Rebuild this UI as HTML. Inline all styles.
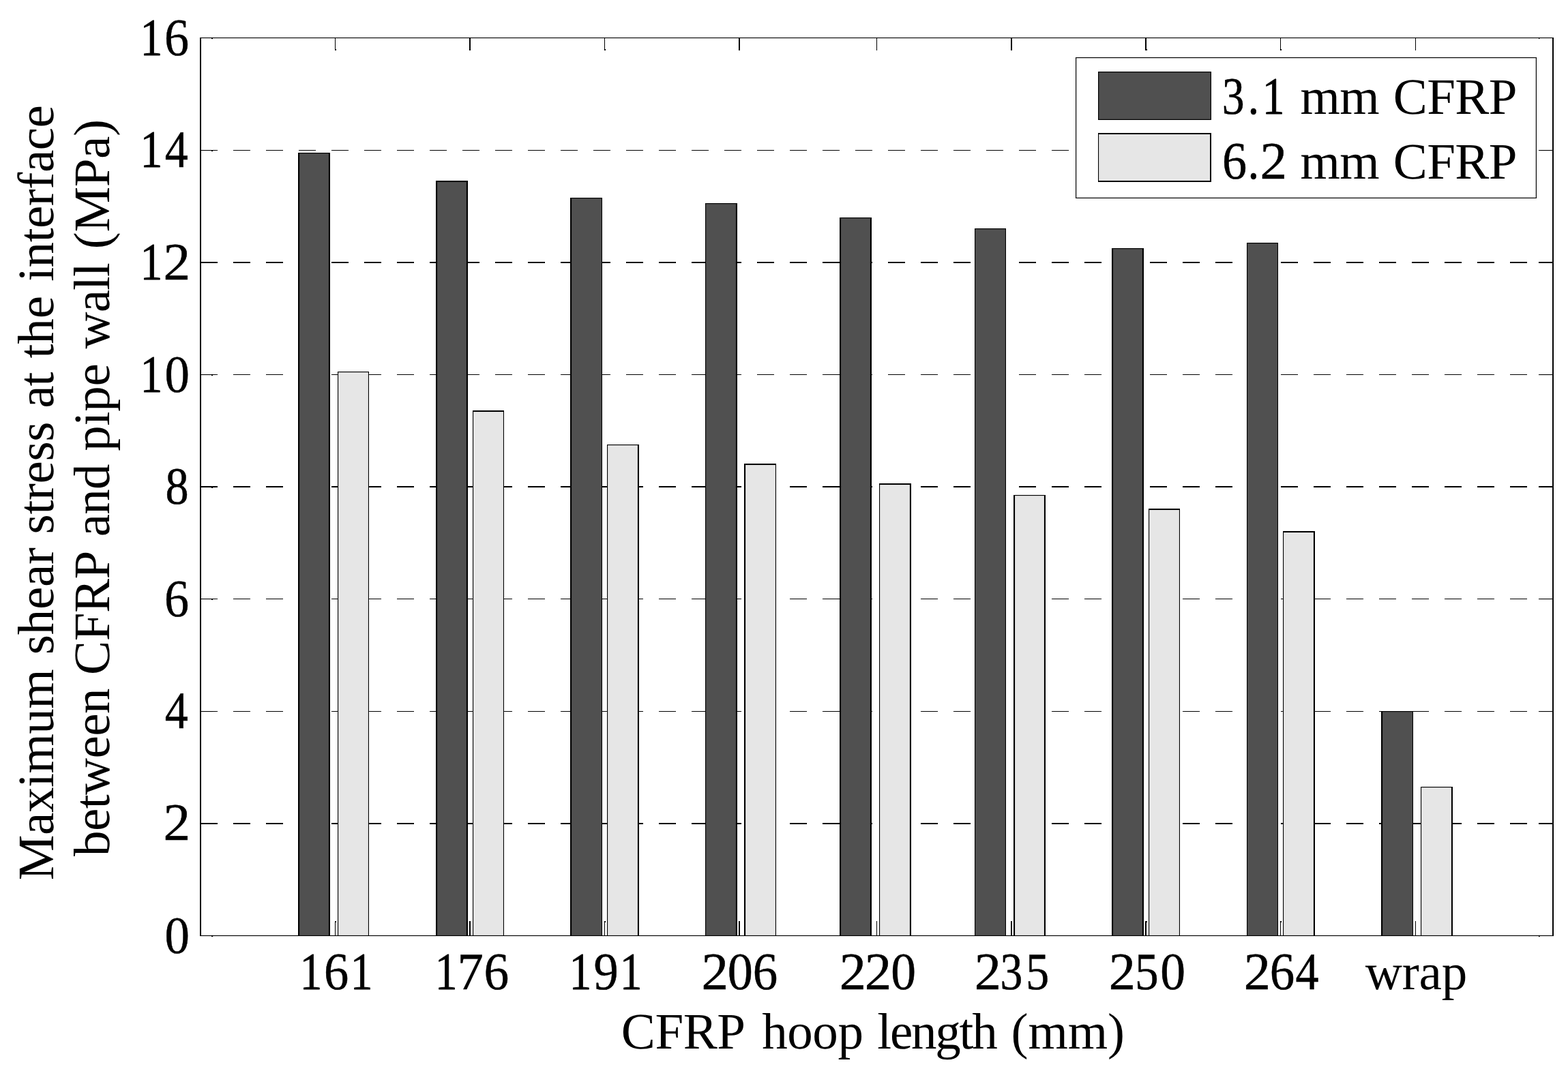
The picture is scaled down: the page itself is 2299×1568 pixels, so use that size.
<!DOCTYPE html>
<html lang="en"><head><meta charset="utf-8">
<title>Maximum shear stress at the interface between CFRP and pipe wall</title>
<style>
html,body{margin:0;padding:0;background:#fff;}
body{width:2299px;height:1568px;overflow:hidden;}
svg{display:block;}
text{font-family:"Liberation Serif", "DejaVu Serif", serif;font-size:75px;fill:#000;white-space:pre;text-rendering:geometricPrecision;}
.d{font-size:77.25px;stroke:#000;stroke-width:0.5px;stroke-linejoin:round;}
.d1{font-size:77.25px;stroke:#000;stroke-width:0.8px;stroke-linejoin:round;}
</style></head><body>
<svg width="2299" height="1568" viewBox="0 0 2299 1568">
<rect x="0" y="0" width="2299" height="1568" fill="#ffffff"/>
<g id="grid" stroke="#000" fill="none" stroke-dasharray="25 23">
<line x1="294" y1="1208" x2="2277" y2="1208" stroke-width="2"/>
<line x1="294" y1="1043.55" x2="2277" y2="1043.55" stroke-width="1.1"/>
<line x1="294" y1="878.55" x2="2277" y2="878.55" stroke-width="1.1"/>
<line x1="294" y1="714" x2="2277" y2="714" stroke-width="2"/>
<line x1="294" y1="549.55" x2="2277" y2="549.55" stroke-width="1.1"/>
<line x1="294" y1="385" x2="2277" y2="385" stroke-width="2"/>
<line x1="294" y1="220.55" x2="2277" y2="220.55" stroke-width="1.1"/>
</g>
<g id="ticks">
<rect x="491" y="1351" width="1" height="21.5" fill="#000"/>
<rect x="491" y="55.5" width="1" height="18.5" fill="#000"/>
<rect x="491" y="1351" width="2" height="2" fill="#000"/>
<rect x="491" y="72" width="2" height="2" fill="#000"/>
<rect x="688" y="1351" width="2" height="21.5" fill="#000"/>
<rect x="688" y="55.5" width="2" height="18.5" fill="#000"/>
<rect x="886" y="1351" width="1" height="21.5" fill="#000"/>
<rect x="886" y="55.5" width="1" height="18.5" fill="#000"/>
<rect x="886" y="1351" width="2" height="2" fill="#000"/>
<rect x="886" y="72" width="2" height="2" fill="#000"/>
<rect x="1083" y="1351" width="2" height="21.5" fill="#000"/>
<rect x="1083" y="55.5" width="2" height="18.5" fill="#000"/>
<rect x="1285" y="1351" width="1" height="21.5" fill="#000"/>
<rect x="1285" y="55.5" width="1" height="18.5" fill="#000"/>
<rect x="1482" y="1351" width="2" height="21.5" fill="#000"/>
<rect x="1482" y="55.5" width="2" height="18.5" fill="#000"/>
<rect x="1679" y="1351" width="2" height="21.5" fill="#000"/>
<rect x="1679" y="55.5" width="2" height="18.5" fill="#000"/>
<rect x="1679" y="1351" width="3" height="2" fill="#000"/>
<rect x="1679" y="72" width="3" height="2" fill="#000"/>
<rect x="1877" y="1351" width="1" height="21.5" fill="#000"/>
<rect x="1877" y="55.5" width="1" height="18.5" fill="#000"/>
<rect x="1877" y="1351" width="2" height="2" fill="#000"/>
<rect x="1877" y="72" width="2" height="2" fill="#000"/>
<rect x="2075" y="1351" width="1" height="21.5" fill="#000"/>
<rect x="2075" y="55.5" width="1" height="18.5" fill="#000"/>
<rect x="294" y="1207" width="18" height="2" fill="#000"/>
<rect x="2256" y="1207" width="21" height="2" fill="#000"/>
<rect x="294" y="1043" width="18" height="1.1" fill="#000"/>
<rect x="2256" y="1043" width="21" height="1.1" fill="#000"/>
<rect x="294" y="878" width="18" height="1.1" fill="#000"/>
<rect x="2256" y="878" width="21" height="1.1" fill="#000"/>
<rect x="310" y="879" width="2" height="1.1" fill="#000"/>
<rect x="294" y="713" width="18" height="2" fill="#000"/>
<rect x="2256" y="713" width="21" height="2" fill="#000"/>
<rect x="310" y="714.9" width="2" height="1.1" fill="#000"/>
<rect x="294" y="549" width="18" height="1.1" fill="#000"/>
<rect x="2256" y="549" width="21" height="1.1" fill="#000"/>
<rect x="310" y="550" width="2" height="1.1" fill="#000"/>
<rect x="294" y="384" width="18" height="2" fill="#000"/>
<rect x="2256" y="384" width="21" height="2" fill="#000"/>
<rect x="294" y="220" width="18" height="1.1" fill="#000"/>
<rect x="2256" y="220" width="21" height="1.1" fill="#000"/>
<rect x="310" y="221" width="2" height="1.1" fill="#000"/>
<rect x="310" y="56" width="2" height="1.2" fill="#000"/>
<rect x="2256" y="56" width="1.3" height="1.1" fill="#000"/>
<rect x="310" y="1372.9" width="2.2" height="1.1" fill="#000"/>
<rect x="2256" y="1373" width="1.6" height="1.2" fill="#000"/>
</g>
<g id="bars">
<rect x="437" y="224" width="47" height="1148.5" fill="#505050"/>
<rect x="437" y="224" width="2.1" height="1148.5" fill="#000"/>
<rect x="481.9" y="224" width="2.1" height="1148.5" fill="#000"/>
<rect x="437" y="224" width="47" height="1.15" fill="#000"/>
<rect x="495" y="545" width="46" height="827.5" fill="#e6e6e6"/>
<rect x="495" y="545" width="1.1" height="827.5" fill="#000"/>
<rect x="539.9" y="545" width="1.1" height="827.5" fill="#000"/>
<rect x="495" y="545" width="46" height="1.15" fill="#000"/>
<rect x="639" y="265" width="47" height="1107.5" fill="#505050"/>
<rect x="639" y="265" width="2.1" height="1107.5" fill="#000"/>
<rect x="683.9" y="265" width="2.1" height="1107.5" fill="#000"/>
<rect x="639" y="265" width="47" height="2.05" fill="#000"/>
<rect x="693" y="602" width="46" height="770.5" fill="#e6e6e6"/>
<rect x="693" y="602" width="1.1" height="770.5" fill="#000"/>
<rect x="737.9" y="602" width="1.1" height="770.5" fill="#000"/>
<rect x="693" y="602" width="46" height="2.05" fill="#000"/>
<rect x="836" y="290" width="47" height="1082.5" fill="#505050"/>
<rect x="836" y="290" width="2.1" height="1082.5" fill="#000"/>
<rect x="881.9" y="290" width="1.1" height="1082.5" fill="#000"/>
<rect x="836" y="290" width="47" height="1.15" fill="#000"/>
<rect x="890" y="652" width="47" height="720.5" fill="#e6e6e6"/>
<rect x="890" y="652" width="1.1" height="720.5" fill="#000"/>
<rect x="934.9" y="652" width="2.1" height="720.5" fill="#000"/>
<rect x="890" y="652" width="47" height="1.15" fill="#000"/>
<rect x="1034" y="298" width="47" height="1074.5" fill="#505050"/>
<rect x="1034" y="298" width="1.1" height="1074.5" fill="#000"/>
<rect x="1078.9" y="298" width="2.1" height="1074.5" fill="#000"/>
<rect x="1034" y="298" width="47" height="1.15" fill="#000"/>
<rect x="1091" y="680" width="47" height="692.5" fill="#e6e6e6"/>
<rect x="1091" y="680" width="2.1" height="692.5" fill="#000"/>
<rect x="1136.9" y="680" width="1.1" height="692.5" fill="#000"/>
<rect x="1091" y="680" width="47" height="2.05" fill="#000"/>
<rect x="1231" y="319" width="47" height="1053.5" fill="#505050"/>
<rect x="1231" y="319" width="2.1" height="1053.5" fill="#000"/>
<rect x="1275.9" y="319" width="2.1" height="1053.5" fill="#000"/>
<rect x="1231" y="319" width="47" height="1.15" fill="#000"/>
<rect x="1289" y="709" width="47" height="663.5" fill="#e6e6e6"/>
<rect x="1289" y="709" width="1.1" height="663.5" fill="#000"/>
<rect x="1333.9" y="709" width="2.1" height="663.5" fill="#000"/>
<rect x="1289" y="709" width="47" height="2.05" fill="#000"/>
<rect x="1429" y="335" width="46" height="1037.5" fill="#505050"/>
<rect x="1429" y="335" width="1.1" height="1037.5" fill="#000"/>
<rect x="1473.9" y="335" width="1.1" height="1037.5" fill="#000"/>
<rect x="1429" y="335" width="46" height="1.15" fill="#000"/>
<rect x="1486" y="726" width="47" height="646.5" fill="#e6e6e6"/>
<rect x="1486" y="726" width="2.1" height="646.5" fill="#000"/>
<rect x="1530.9" y="726" width="2.1" height="646.5" fill="#000"/>
<rect x="1486" y="726" width="47" height="1.15" fill="#000"/>
<rect x="1630" y="364" width="47" height="1008.5" fill="#505050"/>
<rect x="1630" y="364" width="2.1" height="1008.5" fill="#000"/>
<rect x="1674.9" y="364" width="2.1" height="1008.5" fill="#000"/>
<rect x="1630" y="364" width="47" height="1.15" fill="#000"/>
<rect x="1684" y="746" width="46" height="626.5" fill="#e6e6e6"/>
<rect x="1684" y="746" width="1.1" height="626.5" fill="#000"/>
<rect x="1728.9" y="746" width="1.1" height="626.5" fill="#000"/>
<rect x="1684" y="746" width="46" height="2.05" fill="#000"/>
<rect x="1828" y="356" width="46" height="1016.5" fill="#505050"/>
<rect x="1828" y="356" width="1.1" height="1016.5" fill="#000"/>
<rect x="1872.9" y="356" width="1.1" height="1016.5" fill="#000"/>
<rect x="1828" y="356" width="46" height="1.15" fill="#000"/>
<rect x="1881" y="779" width="47" height="593.5" fill="#e6e6e6"/>
<rect x="1881" y="779" width="1.1" height="593.5" fill="#000"/>
<rect x="1925.9" y="779" width="2.1" height="593.5" fill="#000"/>
<rect x="1881" y="779" width="47" height="2.05" fill="#000"/>
<rect x="2025" y="1043" width="47" height="329.5" fill="#505050"/>
<rect x="2025" y="1043" width="2.1" height="329.5" fill="#000"/>
<rect x="2070.9" y="1043" width="1.1" height="329.5" fill="#000"/>
<rect x="2025" y="1043" width="47" height="1.15" fill="#000"/>
<rect x="2083" y="1154" width="47" height="218.5" fill="#e6e6e6"/>
<rect x="2083" y="1154" width="1.1" height="218.5" fill="#000"/>
<rect x="2127.9" y="1154" width="2.1" height="218.5" fill="#000"/>
<rect x="2083" y="1154" width="47" height="1.15" fill="#000"/>
</g>
<g id="axes">
<rect x="293" y="55" width="2" height="1318.05" fill="#000"/>
<rect x="2276" y="55" width="2" height="1318.05" fill="#000"/>
<rect x="293" y="55" width="1985" height="1.1" fill="#000"/>
<rect x="293" y="1371.9" width="1985" height="1.15" fill="#000"/>
</g>
<g id="legend">
<rect x="1577" y="84" width="676" height="207" fill="#000"/>
<rect x="1578.2" y="85.2" width="673.6" height="204.6" fill="#fff"/>
<rect x="1610" y="105" width="166" height="71" fill="#000"/>
<rect x="1611.2" y="106.2" width="163.6" height="68.6" fill="#505050"/>
<rect x="1610" y="195" width="166" height="72" fill="#000"/>
<rect x="1611.1" y="197" width="162.9" height="68" fill="#e6e6e6"/>
</g>
<g id="labels">
<text y="80.8"><tspan x="205.58" class="d1" textLength="32.83" lengthAdjust="spacingAndGlyphs">1</tspan><tspan x="241.06" class="d" textLength="36.08" lengthAdjust="spacingAndGlyphs" dy="0.15">6</tspan></text>
<text y="244.6"><tspan x="205.58" class="d1" textLength="32.83" lengthAdjust="spacingAndGlyphs">1</tspan><tspan x="241.83" class="d" textLength="34.11" lengthAdjust="spacingAndGlyphs" dy="0.15">4</tspan></text>
<text y="409.6"><tspan x="205.58" class="d1" textLength="32.83" lengthAdjust="spacingAndGlyphs">1</tspan><tspan x="239.55" class="d" textLength="39.71" lengthAdjust="spacingAndGlyphs" dy="0.15">2</tspan></text>
<text y="574.8"><tspan x="205.58" class="d1" textLength="32.83" lengthAdjust="spacingAndGlyphs">1</tspan><tspan x="241.44" class="d" textLength="36.42" lengthAdjust="spacingAndGlyphs" dy="0.15">0</tspan></text>
<text y="738.95"><tspan x="242.43" class="d" textLength="34.11" lengthAdjust="spacingAndGlyphs">8</tspan></text>
<text y="904.45"><tspan x="241.06" class="d" textLength="36.08" lengthAdjust="spacingAndGlyphs">6</tspan></text>
<text y="1067.75"><tspan x="241.83" class="d" textLength="34.11" lengthAdjust="spacingAndGlyphs">4</tspan></text>
<text y="1232.15"><tspan x="239.55" class="d" textLength="39.71" lengthAdjust="spacingAndGlyphs">2</tspan></text>
<text y="1397.85"><tspan x="241.44" class="d" textLength="36.42" lengthAdjust="spacingAndGlyphs">0</tspan></text>
<text y="1450.7"><tspan x="439.62" class="d1" textLength="32.83" lengthAdjust="spacingAndGlyphs">1</tspan><tspan x="474.88" class="d" textLength="36.23" lengthAdjust="spacingAndGlyphs" dy="0.15">6</tspan><tspan x="513.67" class="d1" textLength="32.83" lengthAdjust="spacingAndGlyphs" dy="-0.15">1</tspan></text>
<text y="1450.7"><tspan x="637.67" class="d1" textLength="32.83" lengthAdjust="spacingAndGlyphs">1</tspan><tspan x="670.58" class="d" textLength="38.32" lengthAdjust="spacingAndGlyphs" dy="0.15">7</tspan><tspan x="709.57" class="d" textLength="36.69" lengthAdjust="spacingAndGlyphs">6</tspan></text>
<text y="1450.7"><tspan x="834.62" class="d1" textLength="32.83" lengthAdjust="spacingAndGlyphs">1</tspan><tspan x="870.61" class="d" textLength="36.23" lengthAdjust="spacingAndGlyphs" dy="0.15">9</tspan><tspan x="908.67" class="d1" textLength="32.83" lengthAdjust="spacingAndGlyphs" dy="-0.15">1</tspan></text>
<text y="1450.85"><tspan x="1028.45" class="d" textLength="39.59" lengthAdjust="spacingAndGlyphs">2</tspan><tspan x="1066.8" class="d" textLength="37.12" lengthAdjust="spacingAndGlyphs">0</tspan><tspan x="1103.64" class="d" textLength="36.46" lengthAdjust="spacingAndGlyphs">6</tspan></text>
<text y="1450.85"><tspan x="1230.75" class="d" textLength="39.20" lengthAdjust="spacingAndGlyphs">2</tspan><tspan x="1267.79" class="d" textLength="39.47" lengthAdjust="spacingAndGlyphs">2</tspan><tspan x="1306.17" class="d" textLength="36.77" lengthAdjust="spacingAndGlyphs">0</tspan></text>
<text y="1450.85"><tspan x="1428.85" class="d" textLength="39.20" lengthAdjust="spacingAndGlyphs">2</tspan><tspan x="1466.59" class="d" textLength="32.83" lengthAdjust="spacingAndGlyphs">3</tspan><tspan x="1504.04" class="d" textLength="34.26" lengthAdjust="spacingAndGlyphs">5</tspan></text>
<text y="1450.85"><tspan x="1625.75" class="d" textLength="39.20" lengthAdjust="spacingAndGlyphs">2</tspan><tspan x="1663.97" class="d" textLength="34.65" lengthAdjust="spacingAndGlyphs">5</tspan><tspan x="1701.17" class="d" textLength="36.77" lengthAdjust="spacingAndGlyphs">0</tspan></text>
<text y="1450.85"><tspan x="1823.85" class="d" textLength="39.20" lengthAdjust="spacingAndGlyphs">2</tspan><tspan x="1861.74" class="d" textLength="36.46" lengthAdjust="spacingAndGlyphs">6</tspan><tspan x="1899.53" class="d" textLength="34.11" lengthAdjust="spacingAndGlyphs">4</tspan></text>
<text y="1451.1"><tspan x="2001.71" letter-spacing="-0.12">wrap</tspan></text>
<text y="1538"><tspan x="910.77" letter-spacing="-0.4">CFRP</tspan> <tspan x="1117.26" letter-spacing="-0.44">hoop</tspan> <tspan x="1286.29" letter-spacing="-2.22">length</tspan> <tspan x="1482.46" letter-spacing="-0.05">(mm)</tspan></text>
<text transform="translate(78.1 0) rotate(-90)"><tspan x="-1291.18" letter-spacing="-0.44">Maximum</tspan> <tspan x="-960.32" letter-spacing="-0.21">shear</tspan> <tspan x="-783.42" letter-spacing="-0.36">stress</tspan> <tspan x="-598.67" letter-spacing="-1.05">at</tspan> <tspan x="-525.44" letter-spacing="-0.09">the</tspan> <tspan x="-412.78" letter-spacing="-0.46">interface</tspan></text>
<text transform="translate(159.8 0) rotate(-90)"><tspan x="-1256" letter-spacing="-0.55">between</tspan> <tspan x="-989.93" letter-spacing="-0.46">CFRP</tspan> <tspan x="-787.27" letter-spacing="-0.78">and</tspan> <tspan x="-661.72" letter-spacing="-0.17">pipe</tspan> <tspan x="-511.39" letter-spacing="-1">wall</tspan> <tspan x="-365.24" letter-spacing="-0.36">(MPa)</tspan></text>
<text y="166.75"><tspan x="1791.74" class="d" textLength="32.83" lengthAdjust="spacingAndGlyphs">3</tspan><tspan x="1829.58" class="d" textLength="16.72" lengthAdjust="spacingAndGlyphs">.</tspan><tspan x="1850.72" class="d1" textLength="32.83" lengthAdjust="spacingAndGlyphs" dy="-0.15">1</tspan> <tspan x="1906.42" letter-spacing="-0.43" dy="0.4">mm</tspan> <tspan x="2042.67" letter-spacing="-0.53">CFRP</tspan></text>
<text y="261.85"><tspan x="1792.03" class="d" textLength="36.11" lengthAdjust="spacingAndGlyphs">6</tspan><tspan x="1829.58" class="d" textLength="16.72" lengthAdjust="spacingAndGlyphs">.</tspan><tspan x="1847.55" class="d" textLength="39.59" lengthAdjust="spacingAndGlyphs">2</tspan> <tspan x="1906.42" letter-spacing="-0.43" dy="0.25">mm</tspan> <tspan x="2042.67" letter-spacing="-0.53">CFRP</tspan></text>
</g>
</svg>
</body></html>
